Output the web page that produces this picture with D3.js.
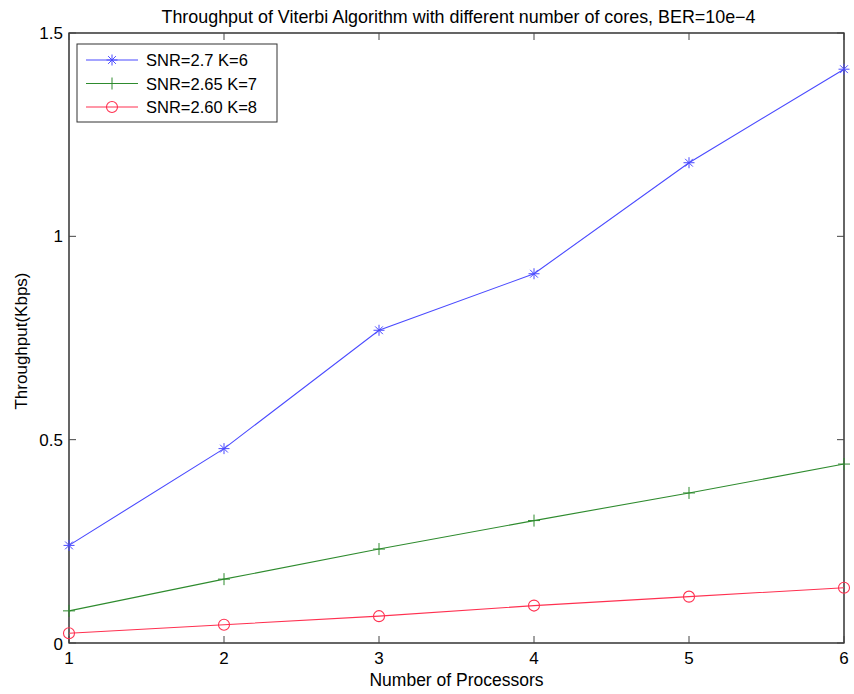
<!DOCTYPE html>
<html>
<head>
<meta charset="utf-8">
<script src="https://cdn.jsdelivr.net/npm/d3@7"></script>
<style>
  body { margin: 0; background: #fff; }
  text { font-family: "Liberation Sans", Arial, sans-serif; fill: #000; }
</style>
</head>
<body>
<div id="chart"></div>
<script>
// data
const processors = [1, 2, 3, 4, 5, 6];
const snr27k6 = [0.240, 0.478, 0.769, 0.908, 1.181, 1.411];
const snr265k7 = [0.079, 0.157, 0.231, 0.301, 0.369, 0.440];
const snr260k8 = [0.024, 0.045, 0.066, 0.092, 0.114, 0.136];
const seriesNames = ["SNR=2.7 K=6", "SNR=2.65 K=7", "SNR=2.60 K=8"];
const xTicks = [1, 2, 3, 4, 5, 6];
const yTicks = [0, 0.5, 1, 1.5];

const series = [
    {name: seriesNames[0], values: snr27k6, color: "#4a4aff", marker: "star"},
    {name: seriesNames[1], values: snr265k7, color: "#2e8b2e", marker: "plus"},
    {name: seriesNames[2], values: snr260k8, color: "#ff3050", marker: "circle"}
];

let W = 854, H = 694;
let margin = {top: 33, right: 10, bottom: 51, left: 69};
let width = W - margin.left - margin.right;
let height = H - margin.top - margin.bottom;

let svg = d3.select("#chart").append("svg")
    .attr("width", W)
    .attr("height", H);

let g = svg.append("g")
    .attr("transform", "translate(" + margin.left + "," + margin.top + ")");

let x = d3.scaleLinear().domain([1, 6]).range([0, width]);
let y = d3.scaleLinear().domain([0, 1.5]).range([height, 0]);

// box
g.append("rect")
    .attr("width", width)
    .attr("height", height)
    .attr("fill", "none")
    .attr("stroke", "#000")
    .attr("stroke-width", 1.2);

// inward ticks like matlab (bottom, top, left, right)
xTicks.forEach(t => {
    g.append("line").attr("x1", x(t)).attr("x2", x(t)).attr("y1", height).attr("y2", height - 7).attr("stroke", "#444");
    g.append("line").attr("x1", x(t)).attr("x2", x(t)).attr("y1", 0).attr("y2", 7).attr("stroke", "#444");
    g.append("text")
        .attr("x", x(t))
        .attr("y", height + 21)
        .attr("text-anchor", "middle")
        .style("font-size", "17px")
        .text(t);
});
yTicks.forEach(t => {
    g.append("line").attr("x1", 0).attr("x2", 7).attr("y1", y(t)).attr("y2", y(t)).attr("stroke", "#444");
    g.append("line").attr("x1", width).attr("x2", width - 7).attr("y1", y(t)).attr("y2", y(t)).attr("stroke", "#444");
    g.append("text")
        .attr("x", -6)
        .attr("y", y(t) + (t === 0 ? 7 : 6))
        .attr("text-anchor", "end")
        .style("font-size", "17px")
        .text(t);
});

// title and axis labels
svg.append("text")
    .attr("x", margin.left + width / 2 + 2)
    .attr("y", 23)
    .attr("text-anchor", "middle")
    .style("font-size", "17.9px")
    .text("Throughput of Viterbi Algorithm with different number of cores, BER=10e\u22124");

svg.append("text")
    .attr("x", margin.left + width / 2)
    .attr("y", 686)
    .attr("text-anchor", "middle")
    .style("font-size", "17.5px")
    .text("Number of Processors");

svg.append("text")
    .attr("transform", "translate(27," + (margin.top + height / 2 + 3) + ") rotate(-90)")
    .attr("text-anchor", "middle")
    .style("font-size", "17px")
    .text("Throughput(Kbps)");

// marker drawing
function drawMarker(sel, type, color) {
    if (type === "star") {
        let r = 5.5;
        [0, 45, 90, 135].forEach(a => {
            let rad = a * Math.PI / 180;
            sel.append("line")
                .attr("x1", -r * Math.cos(rad)).attr("y1", -r * Math.sin(rad))
                .attr("x2", r * Math.cos(rad)).attr("y2", r * Math.sin(rad))
                .attr("stroke", color).attr("stroke-width", 1);
        });
    } else if (type === "plus") {
        let r = 6;
        sel.append("line").attr("x1", -r).attr("x2", r).attr("y1", 0).attr("y2", 0).attr("stroke", color);
        sel.append("line").attr("x1", 0).attr("x2", 0).attr("y1", -r).attr("y2", r).attr("stroke", color);
    } else {
        sel.append("circle").attr("r", 5.5).attr("fill", "none").attr("stroke", color).attr("stroke-width", 1.1);
    }
}

let line = d3.line()
    .x((d, i) => x(processors[i]))
    .y(d => y(d));

series.forEach(s => {
    g.append("path")
        .datum(s.values)
        .attr("fill", "none")
        .attr("stroke", s.color)
        .attr("stroke-width", 1.1)
        .attr("d", line);

    s.values.forEach((v, i) => {
        let m = g.append("g")
            .attr("transform", "translate(" + x(processors[i]) + "," + y(v) + ")");
        drawMarker(m, s.marker, s.color);
    });
});

// legend
let legend = g.append("g").attr("transform", "translate(8,11)");
legend.append("rect")
    .attr("width", 200)
    .attr("height", 78)
    .attr("fill", "#fff")
    .attr("stroke", "#333");

series.forEach((s, i) => {
    let ly = 16 + i * 23.5;
    legend.append("line")
        .attr("x1", 9).attr("x2", 61)
        .attr("y1", ly).attr("y2", ly)
        .attr("stroke", s.color).attr("stroke-width", 1.1);
    let m = legend.append("g").attr("transform", "translate(35," + ly + ")");
    drawMarker(m, s.marker, s.color);
    legend.append("text")
        .attr("x", 69)
        .attr("y", ly + 6)
        .style("font-size", "16.5px")
        .text(s.name);
});
</script>
</body>
</html>
